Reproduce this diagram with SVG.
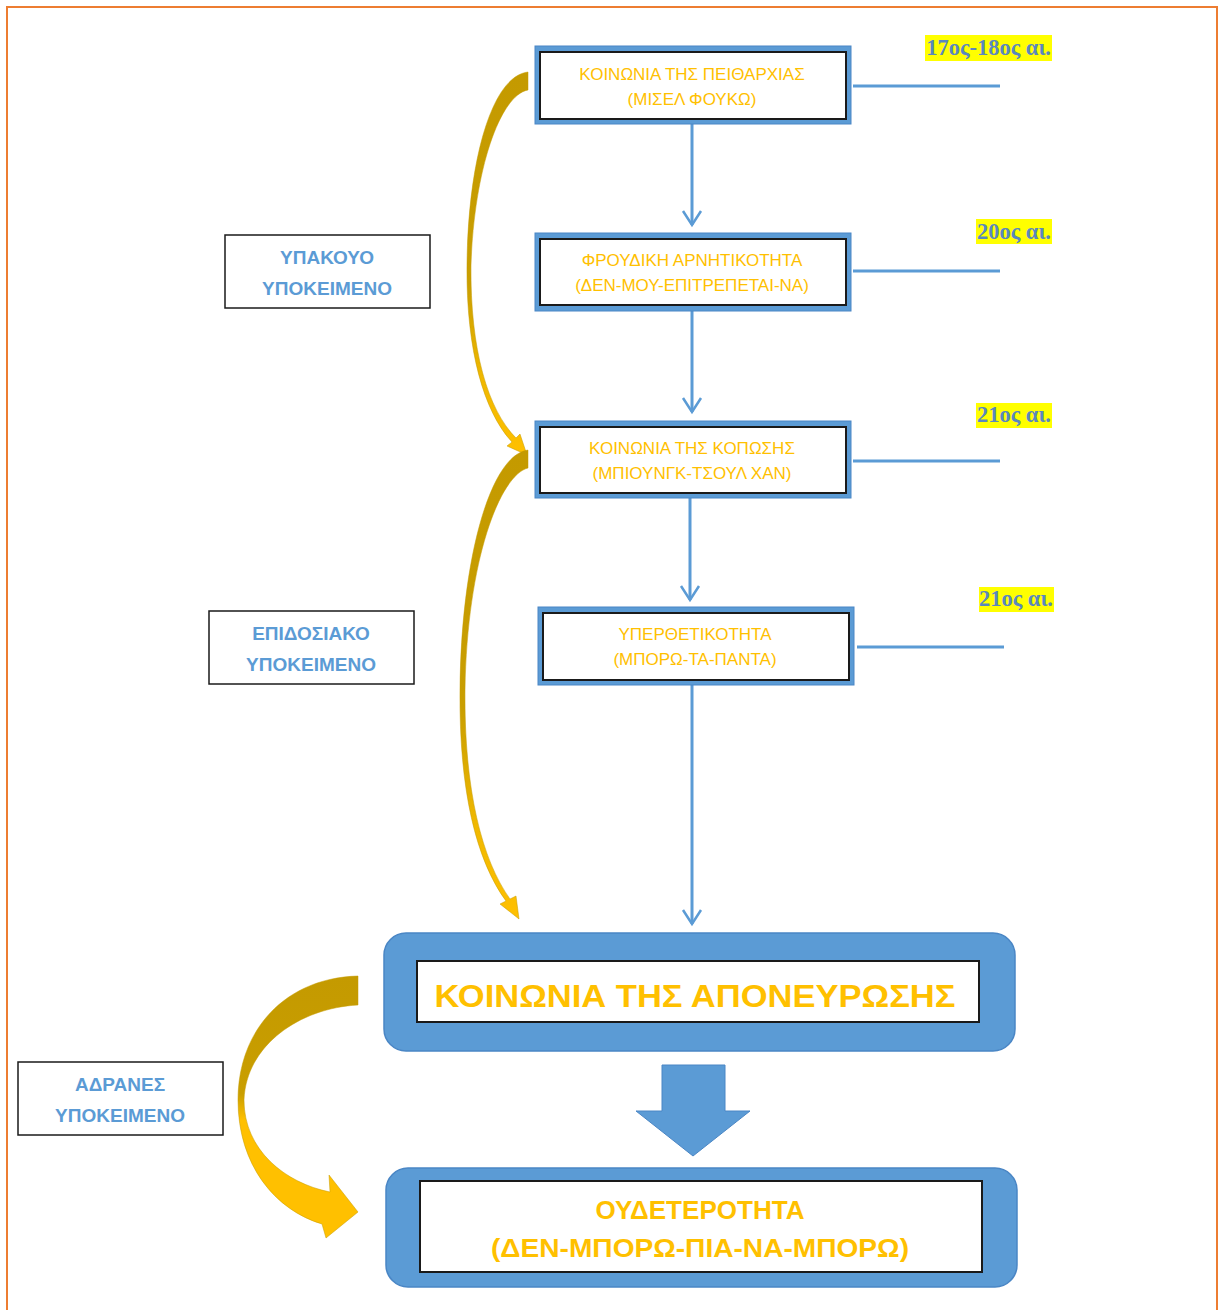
<svg xmlns="http://www.w3.org/2000/svg" width="1221" height="1310" viewBox="0 0 1221 1310">
<style>
.frame{fill:none;stroke:#ED7D31;stroke-width:2}
.obox{fill:#5B9BD5;stroke:#4A86C5;stroke-width:1}
.ibox{fill:#fff;stroke:#1a1a1a;stroke-width:2}
.big{fill:#5B9BD5;stroke:#4A86C5;stroke-width:1.5}
.st{font-family:"Liberation Sans",Arial,sans-serif;font-size:17px;fill:#FFC000;text-anchor:middle}
.bt{font-family:"Liberation Sans",Arial,sans-serif;font-weight:bold;fill:#FFC000;text-anchor:middle}
.lbl{fill:#fff;stroke:#1a1a1a;stroke-width:1.5}
.lt{font-family:"Liberation Sans",Arial,sans-serif;font-weight:bold;font-size:19px;fill:#5B9BD5;text-anchor:middle}
.hl{fill:#FFFF00}
.dt{font-family:"Liberation Serif","Times New Roman",serif;font-weight:bold;font-size:22.5px;fill:#5A87BE;text-anchor:end}
.ln{stroke:#5B9BD5;stroke-width:3;fill:none}
.ah{stroke:#5B9BD5;stroke-width:2.5;fill:none}
</style>
<defs>
<linearGradient id="gold" x1="0" y1="0" x2="0" y2="1">
<stop offset="0" stop-color="#C49A00"/>
<stop offset="0.55" stop-color="#C99E00"/>
<stop offset="0.8" stop-color="#F0B800"/>
<stop offset="1" stop-color="#FFC000"/>
</linearGradient>
<linearGradient id="gold2" x1="0" y1="0" x2="0" y2="1">
<stop offset="0" stop-color="#C49A00"/>
<stop offset="0.45" stop-color="#C99E00"/>
<stop offset="0.55" stop-color="#FFC000"/>
<stop offset="1" stop-color="#FFC000"/>
</linearGradient>
</defs>

<rect class="frame" x="7" y="7" width="1210" height="1320"/>

<g id="connectors">
<line class="ln" x1="692" y1="124" x2="692" y2="225"/>
<polyline class="ah" points="683,211 692,225 701,211"/>
<line class="ln" x1="692" y1="311" x2="692" y2="412"/>
<polyline class="ah" points="683,398 692,412 701,398"/>
<line class="ln" x1="690" y1="498" x2="690" y2="600"/>
<polyline class="ah" points="681,586 690,600 699,586"/>
<line class="ln" x1="692" y1="685" x2="692" y2="924"/>
<polyline class="ah" points="683,910 692,924 701,910"/>
<line class="ln" x1="853" y1="86" x2="1000" y2="86"/>
<line class="ln" x1="853" y1="271" x2="1000" y2="271"/>
<line class="ln" x1="853" y1="461" x2="1000" y2="461"/>
<line class="ln" x1="857" y1="647" x2="1004" y2="647"/>
<polygon fill="#5B9BD5" stroke="#4A86C5" stroke-width="1" points="662,1065 725,1065 725,1111 750,1111 693,1156 636,1111 662,1111"/>
<path fill="url(#gold)" stroke="#C49A00" stroke-width="0.5" d="M528 72 L528 90 C500 95 474 170 471 265 C470 350 488 410 516 438 L520 434 L527 455 L507 446 L512 442 C484 412 466 350 467 265 C468 160 492 76 528 72 Z"/>
<path fill="url(#gold)" stroke="#C49A00" stroke-width="0.5" d="M528 450 L528 468 C500 475 467 560 465 690 C464 790 482 860 510 899 L516 896 L519 919 L500 904 L506 901 C476 860 459 790 460 690 C461 560 490 455 528 450 Z"/>
<path fill="url(#gold2)" stroke="#C49A00" stroke-width="0.5" d="M358 976 L358 1005 C300 1008 246 1045 244 1100 C244 1150 285 1183 330 1192 L329 1175 L358 1212 L326 1238 L322 1224 C275 1210 238 1165 238 1100 C238 1030 285 978 358 976 Z"/>
</g>

<g id="n1">
<rect class="obox" x="535" y="46" width="316" height="78"/>
<rect class="ibox" x="540" y="52" width="306" height="67"/>
<text class="st" x="692" y="80">ΚΟΙΝΩΝΙΑ ΤΗΣ ΠΕΙΘΑΡΧΙΑΣ</text>
<text class="st" x="692" y="105">(ΜΙΣΕΛ ΦΟΥΚΩ)</text>
</g>
<g id="n2">
<rect class="obox" x="535" y="233" width="316" height="78"/>
<rect class="ibox" x="540" y="239" width="306" height="66"/>
<text class="st" x="692" y="266">ΦΡΟΥΔΙΚΗ ΑΡΝΗΤΙΚΟΤΗΤΑ</text>
<text class="st" x="692" y="291">(ΔΕΝ-ΜΟΥ-ΕΠΙΤΡΕΠΕΤΑΙ-ΝΑ)</text>
</g>
<g id="n3">
<rect class="obox" x="535" y="421" width="316" height="77"/>
<rect class="ibox" x="540" y="427" width="306" height="66"/>
<text class="st" x="692" y="454">ΚΟΙΝΩΝΙΑ ΤΗΣ ΚΟΠΩΣΗΣ</text>
<text class="st" x="692" y="479">(ΜΠΙΟΥΝΓΚ-ΤΣΟΥΛ ΧΑΝ)</text>
</g>
<g id="n4">
<rect class="obox" x="538" y="607" width="316" height="78"/>
<rect class="ibox" x="543" y="613" width="306" height="67"/>
<text class="st" x="695" y="640">ΥΠΕΡΘΕΤΙΚΟΤΗΤΑ</text>
<text class="st" x="695" y="665">(ΜΠΟΡΩ-ΤΑ-ΠΑΝΤΑ)</text>
</g>
<g id="n5">
<rect class="big" x="384" y="933" width="631" height="118" rx="22"/>
<rect class="ibox" x="417" y="961" width="562" height="61"/>
<text class="bt" x="695" y="1007" font-size="32" textLength="521" lengthAdjust="spacingAndGlyphs">ΚΟΙΝΩΝΙΑ ΤΗΣ ΑΠΟΝΕΥΡΩΣΗΣ</text>
</g>
<g id="n6">
<rect class="big" x="386" y="1168" width="631" height="119" rx="22"/>
<rect class="ibox" x="420" y="1181" width="562" height="91"/>
<text class="bt" x="700" y="1219" font-size="26" textLength="209" lengthAdjust="spacingAndGlyphs">ΟΥΔΕΤΕΡΟΤΗΤΑ</text>
<text class="bt" x="700" y="1257" font-size="26" textLength="418" lengthAdjust="spacingAndGlyphs">(ΔΕΝ-ΜΠΟΡΩ-ΠΙΑ-ΝΑ-ΜΠΟΡΩ)</text>
</g>
<g id="l1">
<rect class="lbl" x="225" y="235" width="205" height="73"/>
<text class="lt" x="327" y="264">ΥΠΑΚΟΥΟ</text>
<text class="lt" x="327" y="295">ΥΠΟΚΕΙΜΕΝΟ</text>
</g>
<g id="l2">
<rect class="lbl" x="209" y="611" width="205" height="73"/>
<text class="lt" x="311" y="640">ΕΠΙΔΟΣΙΑΚΟ</text>
<text class="lt" x="311" y="671">ΥΠΟΚΕΙΜΕΝΟ</text>
</g>
<g id="l3">
<rect class="lbl" x="18" y="1062" width="205" height="73"/>
<text class="lt" x="120" y="1091">ΑΔΡΑΝΕΣ</text>
<text class="lt" x="120" y="1122">ΥΠΟΚΕΙΜΕΝΟ</text>
</g>
<g id="d1">
<rect class="hl" x="925" y="35" width="127" height="26"/>
<text class="dt" x="1051" y="55">17ος-18ος αι.</text>
</g>
<g id="d2">
<rect class="hl" x="976" y="219" width="76" height="25"/>
<text class="dt" x="1051" y="239">20ος αι.</text>
</g>
<g id="d3">
<rect class="hl" x="976" y="403" width="76" height="25"/>
<text class="dt" x="1051" y="422">21ος αι.</text>
</g>
<g id="d4">
<rect class="hl" x="979" y="587" width="75" height="25"/>
<text class="dt" x="1053" y="606">21ος αι.</text>
</g>
</svg>
